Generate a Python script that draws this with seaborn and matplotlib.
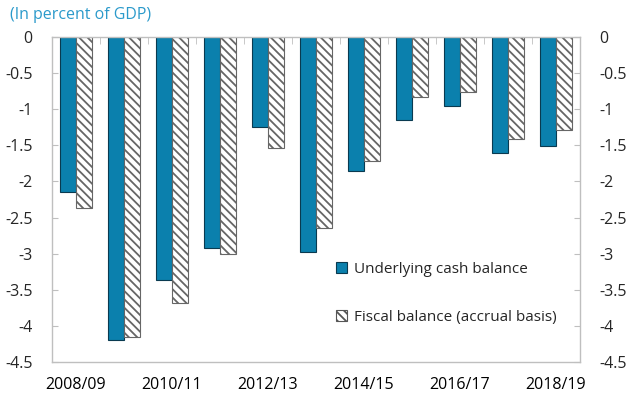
import matplotlib
matplotlib.use("Agg")
import matplotlib.pyplot as plt
import seaborn as sns
import pandas as pd
import numpy as np
from matplotlib.patches import Patch

years = ["2008/09", "2009/10", "2010/11", "2011/12", "2012/13", "2013/14",
         "2014/15", "2015/16", "2016/17", "2017/18", "2018/19"]
cash_balance = [-2.15, -4.20, -3.37, -2.92, -1.24, -2.97, -1.86, -1.15, -0.95, -1.60, -1.51]
fiscal_balance = [-2.37, -4.15, -3.68, -3.01, -1.54, -2.64, -1.71, -0.83, -0.76, -1.41, -1.29]
series_names = ["Underlying cash balance", "Fiscal balance (accrual basis)"]
yticks = [0, -0.5, -1, -1.5, -2, -2.5, -3, -3.5, -4, -4.5]
ytick_labels = ["0", "-0.5", "-1", "-1.5", "-2", "-2.5", "-3", "-3.5", "-4", "-4.5"]

df = pd.DataFrame({
    "year": years * 2,
    "value": cash_balance + fiscal_balance,
    "series": [series_names[0]] * len(years) + [series_names[1]] * len(years),
})

sns.set_style("white")
plt.rcParams["font.family"] = ["Open Sans", "DejaVu Sans"]
plt.rcParams["hatch.linewidth"] = 1.3
plt.rcParams["hatch.color"] = "#555555"

blue = "#0B80AD"
fig = plt.figure(figsize=(6.29, 3.94), dpi=100)
ax = fig.add_axes([52 / 629, 1 - 362 / 394, 528 / 629, 325 / 394])

sns.barplot(data=df, x="year", y="value", hue="series", order=years,
            hue_order=series_names, palette=[blue, "white"], width=0.667,
            saturation=1, ax=ax, legend=False)

n = len(years)
for i, p in enumerate(ax.patches[:2 * n]):
    if i < n:
        p.set_edgecolor("#0a3a50")
        p.set_linewidth(0.8)
    else:
        p.set_facecolor("white")
        p.set_edgecolor("#666666")
        p.set_linewidth(0.8)
        p.set_hatch("\\\\\\\\")

ax.set_ylim(-4.5, 0)
ax.set_xlim(-0.5, n - 0.5)
ax.set_yticks(yticks)
ax.set_yticklabels(ytick_labels)
ax.set_xticks(range(0, n, 2))
ax.set_xticklabels(years[::2])
ax.set_xticks(np.arange(0.5, n - 0.5, 1), minor=True)
ax.set_xlabel("")
ax.set_ylabel("")

spine_c = "#bfbfbf"
for s in ["left", "right", "bottom", "top"]:
    ax.spines[s].set_visible(True)
    ax.spines[s].set_color(spine_c)
    ax.spines[s].set_linewidth(1.0)

ax.tick_params(axis="x", which="major", length=0, labelsize=11.5, pad=11, colors="black")
ax.tick_params(axis="x", which="minor", top=True, bottom=False, direction="in",
               length=5, color=spine_c)
ax.tick_params(axis="y", which="major", left=True, direction="in", length=4,
               color=spine_c, labelsize=11.5, pad=14)

ax2 = ax.twinx()
ax2.set_ylim(-4.5, 0)
ax2.set_yticks(yticks)
ax2.set_yticklabels(ytick_labels)
ax2.tick_params(axis="y", right=True, direction="in", length=4, color=spine_c,
                labelsize=11.5, pad=14)
for s in ["left", "right", "bottom", "top"]:
    ax2.spines[s].set_visible(False)

handles = [Patch(facecolor=blue, edgecolor="#0a3a50", linewidth=0.8),
           Patch(facecolor="white", edgecolor="#555555", linewidth=0.8, hatch="\\\\\\\\")]
ax.legend(handles, series_names, loc="upper left",
          bbox_to_anchor=(336 / 629, 1 - 262 / 394), bbox_transform=fig.transFigure,
          frameon=False, fontsize=11, handlelength=0.75, handleheight=0.75,
          handletextpad=0.4, labelspacing=2.15, borderpad=0, borderaxespad=0)

fig.text(10 / 629, 1 - 15 / 394, "(In percent of GDP)", color="#2B9ACB",
         fontsize=11.5, va="center", ha="left")

fig.savefig("out.png", dpi=100)
